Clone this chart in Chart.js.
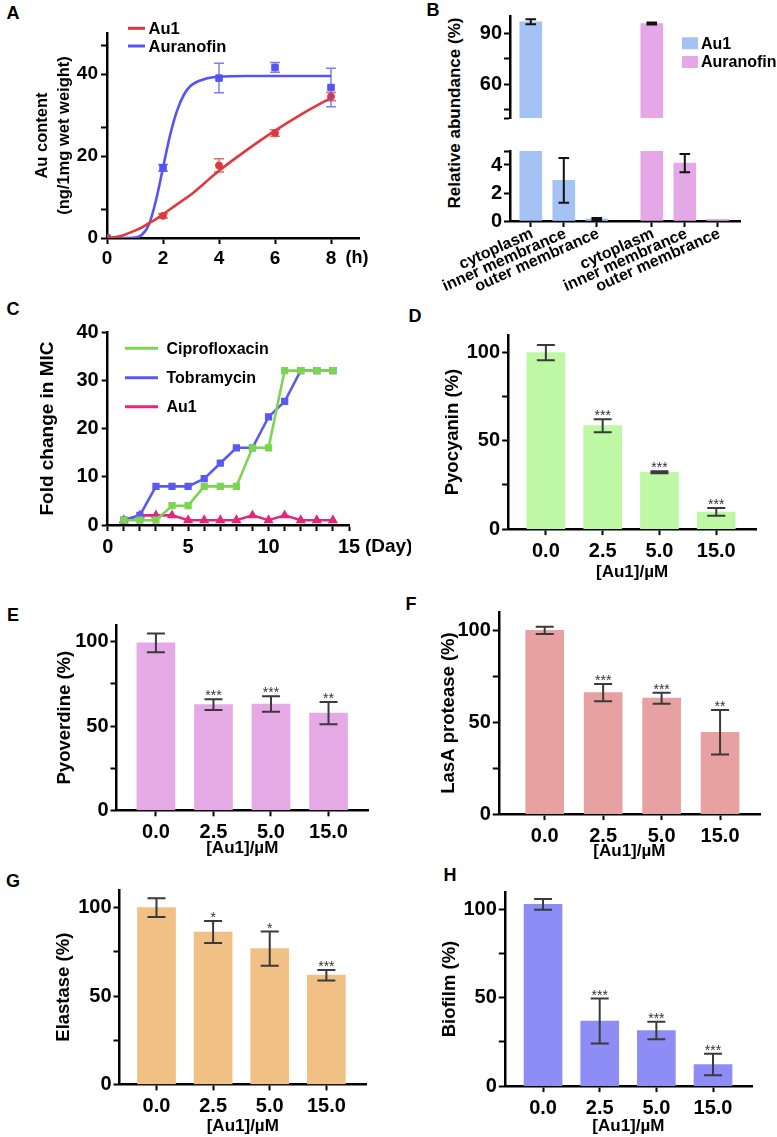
<!DOCTYPE html>
<html>
<head>
<meta charset="utf-8">
<script src="https://cdn.jsdelivr.net/npm/chart.js@4.4.1/dist/chart.umd.min.js"></script>
<style>
html, body { margin: 0; background: #fff; }
body { position: relative; width: 777px; height: 1137px; overflow: hidden; font-family: 'Liberation Sans', Arial, sans-serif; }
canvas { position: absolute; }
.panel { position: absolute; font-weight: bold; font-size: 18px; line-height: 1; transform: translate(-50%, -50%); }
.vtitle { position: absolute; font-weight: bold; font-size: 17px; white-space: nowrap; transform: translate(-50%, -50%) rotate(-90deg); }
</style>
</head>
<body>
<div class="panel" style="left:13px;top:13px">A</div>
<div class="panel" style="left:433px;top:10px">B</div>
<div class="panel" style="left:13px;top:309px">C</div>
<div class="panel" style="left:415px;top:316px">D</div>
<div class="panel" style="left:13px;top:615px">E</div>
<div class="panel" style="left:411px;top:604px">F</div>
<div class="panel" style="left:13px;top:881px">G</div>
<div class="panel" style="left:450px;top:875px">H</div>
<div class="vtitle" style="left:455px;top:113px">Relative abundance (%)</div>

<canvas id="chartA"></canvas>
<canvas id="chartB1"></canvas>
<canvas id="chartB2"></canvas>
<canvas id="chartC"></canvas>
<canvas id="chartD"></canvas>
<canvas id="chartE"></canvas>
<canvas id="chartF"></canvas>
<canvas id="chartG"></canvas>
<canvas id="chartH"></canvas>

<script>
// ---- A: Au uptake over time
const hoursA = [0, 2, 4, 6, 8]
const au1Content = [0, 5.4, 17.7, 25.6, 34.5]
const au1ContentErr = [0, 0.5, 1.6, 0.8, 1.0]
const auranofinContent = [0, 17.1, 39.0, 41.6, 36.7]
const auranofinContentErr = [0, 0.8, 3.6, 1.2, 4.7]
// fitted curves
const fitHours = [0, 0.5, 1, 1.25, 1.5, 1.75, 2, 2.25, 2.5, 2.75, 3, 3.5, 4, 5, 6, 7, 8]
const au1Fit = [0, 0.5, 1.8, 2.6, 3.6, 4.6, 5.8, 7.0, 8.2, 9.4, 10.6, 13.5, 16.4, 21.5, 26.2, 30.4, 34.2]
const auranofinFit = [0, 0, 0.1, 0.8, 3.3, 9.2, 17.1, 25, 31, 35, 37.2, 38.8, 39.3, 39.5, 39.5, 39.5, 39.5]

// ---- B: distribution
const fractions = ['cytoplasm', 'inner membrance', 'outer membrance']
const au1Abund = [96.6, 2.9, 0.15]
const au1AbundErr = [1.5, 1.6, 0.07]
const auranofinAbund = [95.6, 4.13, 0.12]
const auranofinAbundErr = [0.6, 0.65, 0]

// ---- C: resistance
const days = [1, 2, 3, 4, 5, 6, 7, 8, 9, 10, 11, 12, 13, 14]
const cipro = [1, 1, 1, 4, 4, 8, 8, 8, 16, 16, 32, 32, 32, 32]
const tobra = [1, 2, 8, 8, 8, 9.6, 12.8, 16, 16, 22.4, 25.6, 32, 32, 32]
const au1Mic = [1, 2, 2, 2, 1, 1, 1, 1, 2, 1, 2, 1, 1, 1]

// ---- D-H: virulence factors
const concLabels = ['0.0', '2.5', '5.0', '15.0']
const pyocyanin = [100, 58.6, 32.2, 9.7]
const pyocyaninErr = [4.3, 3.7, 0.6, 2.2]
const pyocyaninSig = ['', '***', '***', '***']
const pyoverdine = [99.4, 62.7, 63.1, 57.7]
const pyoverdineErr = [5.6, 3.2, 4.6, 6.6]
const pyoverdineSig = ['', '***', '***', '**']
const lasA = [100, 66.1, 63.1, 44.5]
const lasAErr = [2, 4.7, 3, 12.1]
const lasASig = ['', '***', '***', '**']
const elastase = [100, 86.2, 76.8, 61.8]
const elastaseErr = [5.3, 6.2, 9.7, 3]
const elastaseSig = ['', '*', '*', '***']
const biofilm = [103, 36.9, 31.5, 12.2]
const biofilmErr = [3.1, 12.7, 5, 6.1]
const biofilmSig = ['', '***', '***', '***']

Chart.defaults.font.family = "'Liberation Sans', Arial, sans-serif"
Chart.defaults.color = '#000'
Chart.defaults.animation = false

const BOLD = (size) => ({ size: size, weight: 'bold', lineHeight: 1.2 })

// size the canvas so that the plot area lands on the given page box
function place(id, area, pad) {
  const c = document.getElementById(id)
  const x0 = Math.round(area.L - pad.y), y0 = Math.round(area.T - pad.top)
  const w = Math.round(area.R + pad.right) - x0, h = Math.round(area.B + pad.x) - y0
  c.style.left = x0 + 'px'
  c.style.top = y0 + 'px'
  c.width = w
  c.height = h
  c.style.width = w + 'px'
  c.style.height = h + 'px'
  return c
}

function pageDraw(chart, fn) {
  const ctx = chart.ctx, c = chart.canvas
  ctx.save()
  ctx.translate(-c.offsetLeft, -c.offsetTop)
  fn(ctx)
  ctx.restore()
}

function axis(o) {
  return {
    type: 'linear',
    display: o.display !== false,
    offset: false,
    min: o.min,
    max: o.max,
    afterBuildTicks: s => { s.ticks = o.ticks.map(v => ({ value: v })) },
    afterFit: s => { if (o.vertical) s.width = o.size; else s.height = o.size },
    border: { display: true, color: '#000', width: 2.5 },
    grid: { offset: false, drawOnChartArea: false, drawTicks: true, tickLength: 6, tickWidth: 2, tickColor: '#000' },
    ticks: {
      autoSkip: false,
      minRotation: 0,
      maxRotation: 0,
      padding: o.pad === undefined ? 3 : o.pad,
      font: o.font || BOLD(20),
      color: '#000',
      callback: o.label,
    },
    title: o.title ? { display: true, text: o.title, font: o.titleFont, color: '#000', padding: 0 } : { display: false },
  }
}

function baseOptions(pad, scales, extra) {
  return Object.assign({
    responsive: false,
    maintainAspectRatio: false,
    animation: false,
    layout: { padding: { top: pad.top, right: pad.right, left: 0, bottom: 0 }, autoPadding: false },
    plugins: { legend: { display: false }, tooltip: { enabled: false } },
    scales: scales,
  }, extra || {})
}

// error bars and significance stars, from dataset.errors / dataset.stars
Chart.register({
  id: 'errorBars',
  afterDatasetsDraw(chart) {
    const ctx = chart.ctx, a = chart.chartArea
    ctx.save()
    ctx.beginPath()
    ctx.rect(a.left - 2, a.top - 2, a.right - a.left + 4, a.bottom - a.top + 3)
    ctx.clip()
    chart.data.datasets.forEach((ds, i) => {
      if (!ds.errors) return
      const meta = chart.getDatasetMeta(i)
      const ys = chart.scales[meta.yAxisID]
      meta.data.forEach((el, j) => {
        const e = ds.errors[j]
        const v = meta.controller.getParsed(j).y
        const top = ys.getPixelForValue(v + e), bot = ys.getPixelForValue(v - e)
        ctx.strokeStyle = ds.errorColor
        ctx.lineWidth = ds.errorWidth
        if (e > 0) {
          ctx.beginPath()
          ctx.moveTo(el.x, top); ctx.lineTo(el.x, bot)
          ctx.moveTo(el.x - ds.capHalf, top); ctx.lineTo(el.x + ds.capHalf, top)
          ctx.moveTo(el.x - ds.capHalf, bot); ctx.lineTo(el.x + ds.capHalf, bot)
          ctx.stroke()
        }
        if (ds.stars && ds.stars[j]) {
          ctx.fillStyle = '#333'
          ctx.font = "14px 'Liberation Sans', Arial, sans-serif"
          ctx.textAlign = 'center'
          ctx.textBaseline = 'alphabetic'
          ctx.fillText(ds.stars[j], el.x, top + 1)
        }
      })
    })
    ctx.restore()
  },
})

// ---------------- A ----------------
const RED = '#e0393d', BLUE = '#5454f2'
{
  const area = { L: 107.3, T: 33.3, R: 359, B: 238.3 }
  const pad = { y: 75, x: 32, top: 33, right: 20 }
  place('chartA', area, pad)
  new Chart('chartA', {
    type: 'scatter',
    data: {
      datasets: [
        { label: 'Au1', order: 0, data: hoursA.map((h, i) => ({ x: h, y: au1Content[i] })), pointStyle: 'circle', pointRadius: 3.5, backgroundColor: RED, borderColor: RED, showLine: false,
          errors: au1ContentErr, errorColor: 'rgba(224,57,61,0.75)', errorWidth: 1.5, capHalf: 5 },
        { label: 'Auranofin', order: 0, data: hoursA.map((h, i) => ({ x: h, y: auranofinContent[i] })), pointStyle: 'rect', pointRadius: 4.6, backgroundColor: BLUE, borderColor: BLUE, showLine: false,
          errors: auranofinContentErr, errorColor: 'rgba(84,84,242,0.75)', errorWidth: 1.5, capHalf: 5 },
        { order: 1, type: 'line', data: fitHours.map((h, i) => ({ x: h, y: au1Fit[i] })), borderColor: RED, borderWidth: 2.6, pointRadius: 0, cubicInterpolationMode: 'monotone', fill: false },
        { order: 1, type: 'line', data: fitHours.map((h, i) => ({ x: h, y: auranofinFit[i] })), borderColor: BLUE, borderWidth: 2.6, pointRadius: 0, cubicInterpolationMode: 'monotone', fill: false },
      ],
    },
    options: baseOptions(pad, {
      x: axis({ min: 0, max: 9, ticks: [0, 2, 4, 6, 8], size: pad.x, pad: 3, font: BOLD(19), label: v => v }),
      y: axis({ vertical: true, min: 0, max: 50, ticks: [0, 7, 20, 27, 40, 47], size: pad.y, pad: 3, font: BOLD(19),
        label: v => (v % 20 === 0 ? v : ''), title: ['Au content', '(ng/1mg wet weight)'], titleFont: { size: 16.5, weight: 'bold', lineHeight: 1.32 } }),
    }),
    plugins: [{
      id: 'legendA',
      afterDraw(chart) {
        pageDraw(chart, ctx => {
          const rows = [28.3, 46]
          chart.data.datasets.slice(0, 2).forEach((ds, i) => {
            ctx.strokeStyle = ds.borderColor
            ctx.lineWidth = 3
            ctx.beginPath(); ctx.moveTo(128, rows[i]); ctx.lineTo(145, rows[i]); ctx.stroke()
            ctx.fillStyle = '#000'
            ctx.font = "bold 16.5px 'Liberation Sans', Arial, sans-serif"
            ctx.textBaseline = 'middle'
            ctx.textAlign = 'left'
            ctx.fillText(ds.label, 148.5, rows[i] + 1)
          })
          ctx.font = "bold 18px 'Liberation Sans', Arial, sans-serif"
          ctx.textAlign = 'center'
          ctx.fillText('(h)', 357, 258.5)
        })
      },
    }],
  })
}

// ---------------- B ----------------
const B_AU1 = '#a4c2f4', B_AURA = '#e5a8e6'
const groupGap = 3.667
const bX = fractions.map((f, i) => i + 1)
function bDatasets() {
  return [
    { label: 'Au1', data: bX.map((x, i) => ({ x: x, y: au1Abund[i] })), backgroundColor: B_AU1, barThickness: 22, grouped: false,
      errors: au1AbundErr, errorColor: '#111', errorWidth: 2, capHalf: 5.3 },
    { label: 'Auranofin', data: bX.map((x, i) => ({ x: x + groupGap, y: auranofinAbund[i] })), backgroundColor: B_AURA, barThickness: 22, grouped: false,
      errors: auranofinAbundErr, errorColor: '#111', errorWidth: 2, capHalf: 5.3 },
  ]
}
const bTicks = bX.concat(bX.map(x => x + groupGap))
{
  const area = { L: 510, T: 16, R: 740, B: 131.7 }
  const pad = { y: 45, x: 0, top: 16, right: 37 }
  place('chartB1', area, pad)
  new Chart('chartB1', {
    type: 'bar',
    data: { datasets: bDatasets() },
    options: baseOptions(pad, {
      x: axis({ display: false, min: 0.37, max: 7.34, ticks: bTicks, size: 0, label: v => '' }),
      y: axis({ vertical: true, min: 40, max: 100, ticks: [40, 45, 60, 75, 90], size: pad.y, pad: 2, label: v => (v === 60 || v === 90 ? v : '') }),
    }),
    plugins: [{
      id: 'legendB',
      afterDraw(chart) {
        pageDraw(chart, ctx => {
          const rows = [43.3, 62]
          chart.data.datasets.forEach((ds, i) => {
            ctx.fillStyle = ds.backgroundColor
            ctx.fillRect(682, rows[i] - 6, 16, 12)
            ctx.fillStyle = '#000'
            ctx.font = "bold 16px 'Liberation Sans', Arial, sans-serif"
            ctx.textBaseline = 'middle'
            ctx.textAlign = 'left'
            ctx.fillText(ds.label, 701, rows[i] + 1)
          })
        })
      },
    }],
  })
}
{
  const area = { L: 510, T: 142.7, R: 740, B: 221 }
  const pad = { y: 75, x: 76, top: 6, right: 37 }
  place('chartB2', area, pad)
  new Chart('chartB2', {
    type: 'bar',
    data: { datasets: bDatasets() },
    options: baseOptions(pad, {
      x: axis({ min: 0.37, max: 7.34, ticks: bTicks, size: pad.x, label: v => '' }),
      y: axis({ vertical: true, min: 0, max: 5, ticks: [0, 2, 4, 5], size: pad.y, pad: 2, label: v => (v % 2 === 0 ? v : '') }),
    }),
    plugins: [{
      // slanted category names, anchored at each tick through the x scale
      id: 'slantedLabels',
      afterDraw(chart) {
        const ctx = chart.ctx, xs = chart.scales.x, a = chart.chartArea
        bTicks.forEach((t, i) => {
          ctx.save()
          ctx.translate(xs.getPixelForValue(t) + 1.5, a.bottom + 12)
          ctx.rotate(-24 * Math.PI / 180)
          ctx.font = "bold 16px 'Liberation Sans', Arial, sans-serif"
          ctx.fillStyle = '#000'
          ctx.textAlign = 'right'
          ctx.textBaseline = 'middle'
          ctx.fillText(fractions[i % fractions.length], 0, 0)
          ctx.restore()
        })
      },
    }],
  })
}

// ---------------- C ----------------
const C_GREEN = '#7bd452', C_BLUE = '#5a5af0', C_PINK = '#e0287d'
{
  const area = { L: 107.3, T: 329, R: 349, B: 525 }
  const pad = { y: 71.7, x: 40, top: 12, right: 62 }
  place('chartC', area, pad)
  const series = (label, vals, color, style) => ({
    label: label, data: days.map((d, i) => ({ x: d, y: vals[i] })), borderColor: color, backgroundColor: color,
    borderWidth: 2.6, pointStyle: style, pointRadius: 3.3, showLine: true, tension: 0,
  })
  new Chart('chartC', {
    type: 'scatter',
    data: {
      datasets: [
        series('Ciprofloxacin', cipro, C_GREEN, 'rect'),
        series('Tobramycin', tobra, C_BLUE, 'rect'),
        series('Au1', au1Mic, C_PINK, 'triangle'),
      ],
    },
    options: baseOptions(pad, {
      x: axis({ min: 0, max: 15, ticks: [0, 1, 2, 3, 4, 5, 6, 7, 8, 9, 10, 11, 12, 13, 14, 15], size: pad.x, pad: 4,
        label: v => (v % 5 === 0 ? v : '') }),
      y: axis({ vertical: true, min: 0, max: 40, ticks: [0, 10, 20, 30, 40], size: pad.y, pad: 3, label: v => v,
        title: 'Fold change in MIC', titleFont: BOLD(19) }),
    }),
    plugins: [{
      id: 'legendC',
      afterDraw(chart) {
        pageDraw(chart, ctx => {
          const rows = [348.3, 377.7, 406.7]
          chart.data.datasets.forEach((ds, i) => {
            ctx.strokeStyle = ds.borderColor
            ctx.lineWidth = 3
            ctx.beginPath(); ctx.moveTo(125, rows[i]); ctx.lineTo(158, rows[i]); ctx.stroke()
            ctx.fillStyle = '#000'
            ctx.font = "bold 16px 'Liberation Sans', Arial, sans-serif"
            ctx.textBaseline = 'middle'
            ctx.textAlign = 'left'
            ctx.fillText(ds.label, 166.5, rows[i] + 1)
          })
          ctx.font = "bold 19px 'Liberation Sans', Arial, sans-serif"
          ctx.textAlign = 'left'
          ctx.fillText('(Day)', 365, 547)
        })
      },
    }],
  })
}

// ---------------- D-H ----------------
function barPanel(id, area, pad, xr, values, errs, stars, color, yTitle) {
  place(id, area, pad)
  new Chart(id, {
    type: 'bar',
    data: {
      datasets: [{
        data: values.map((v, i) => ({ x: i, y: v })), backgroundColor: color, barThickness: 38,
        errors: errs, stars: stars, errorColor: '#3a3a3a', errorWidth: 2, capHalf: 9,
      }],
    },
    options: baseOptions(pad, {
      x: axis({ min: xr[0], max: xr[1], ticks: concLabels.map((c, i) => i), size: pad.x, pad: 4, label: v => concLabels[v],
        title: '[Au1]/\u00b5M', titleFont: { size: 17, weight: 'bold', lineHeight: 1.2 } }),
      y: axis({ vertical: true, min: 0, max: 110, ticks: [0, 25, 50, 75, 100], size: pad.y, pad: 2,
        label: v => (v % 50 === 0 ? v : ''), title: yTitle, titleFont: BOLD(18.5) }),
    }),
  })
}

barPanel('chartD', { L: 508.3, T: 329.3, R: 755.7, B: 529.3 }, { y: 66.1, x: 53.9, top: 8, right: 10 },
  [-0.665, 3.70], pyocyanin, pyocyaninErr, pyocyaninSig, '#bff8a4', 'Pyocyanin (%)')
barPanel('chartE', { L: 116.7, T: 619.3, R: 367.7, B: 810 }, { y: 62.5, x: 48.7, top: 8, right: 10 },
  [-0.685, 3.686], pyoverdine, pyoverdineErr, pyoverdineSig, '#e5a9e5', 'Pyoverdine (%)')
barPanel('chartF', { L: 498.3, T: 606, R: 760, B: 814.3 }, { y: 60.8, x: 47.9, top: 8, right: 10 },
  [-0.785, 3.683], lasA, lasAErr, lasASig, '#e8a1a1', 'LasA protease (%)')
barPanel('chartG', { L: 119, T: 884.3, R: 365.7, B: 1084.3 }, { y: 66.5, x: 52.6, top: 8, right: 10 },
  [-0.653, 3.70], elastase, elastaseErr, elastaseSig, '#f0c084', 'Elastase (%)')
barPanel('chartH', { L: 505, T: 886, R: 752.3, B: 1086 }, { y: 65.8, x: 50.9, top: 8, right: 10 },
  [-0.675, 3.688], biofilm, biofilmErr, biofilmSig, '#8d8df5', 'Biofilm (%)')
</script>
</body>
</html>
